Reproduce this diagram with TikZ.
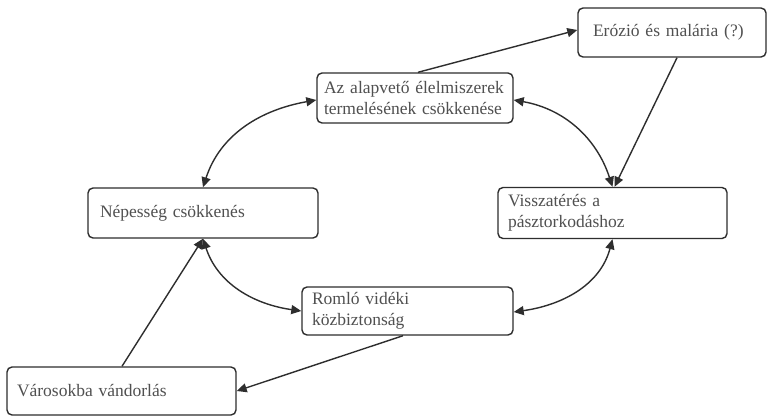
\documentclass[tikz,border=0pt]{standalone}
\usepackage{fontspec}
\setmainfont{Liberation Serif}
\usetikzlibrary{arrows.meta}
\hyphenpenalty=10000
\exhyphenpenalty=10000
\definecolor{edge}{HTML}{2E2E2E}
\definecolor{txt}{HTML}{505050}
\tikzset{
  box/.style={draw=edge, line width=1.4pt, rounded corners=5pt, fill=white,
    inner xsep=10pt, inner ysep=0pt, align=left, text=txt,
    font=\fontsize{17.5pt}{21pt}\selectfont},
  conn/.style={draw=edge, line width=1.4pt},
}
\begin{document}
\begin{tikzpicture}[x=1pt,y=1pt]
\useasboundingbox (0,0) rectangle (768,-417);
\fill[white] (0,0) rectangle (768,-417);
% boxes
\node[box, minimum width=196pt, minimum height=50pt, text width=182pt, inner xsep=7pt] (A) at (415,-98) {Az alapvető élelmiszerek\\termelésének csökkenése};
\node[box, minimum width=188pt, minimum height=49pt, text width=158pt, inner xsep=15pt] (E) at (672,-32.5) {Erózió és malária (?)};
\node[box, minimum width=230pt, minimum height=50pt, text width=206pt, inner xsep=12pt] (N) at (203,-213) {Népesség csökkenés};
\node[box, minimum width=229pt, minimum height=51pt, text width=209pt] (V) at (612.5,-213) {Visszatérés a\\pásztorkodáshoz};
\node[box, minimum width=211pt, minimum height=48pt, text width=191pt] (R) at (407.5,-311) {Romló vidéki\\közbiztonság};
\node[box, minimum width=229pt, minimum height=48pt, text width=209pt] (W) at (121.5,-391) {Városokba vándorlás};
% straight connectors
\draw[conn, -{Triangle[length=10pt,width=9pt]}] ([xshift=3pt]A.north) -- ([yshift=2.5pt]E.west);
\draw[conn, -{Triangle[length=10pt,width=9pt]}] ([xshift=5pt]E.south) -- ([xshift=2pt]V.north);
\draw[conn, -{Triangle[length=10pt,width=9pt]}] ([xshift=0.5pt]W.north) -- (N.south);
\draw[conn, -{Triangle[length=10pt,width=9pt]}] ([xshift=-4.5pt]R.south) -- (W.east);
% curved double connectors
\draw[conn, {Triangle[length=10pt,width=9pt]}-{Triangle[length=10pt,width=9pt]}] (N.north) to[out=72, in=190] ([yshift=-2pt]A.west);
\draw[conn, {Triangle[length=10pt,width=9pt]}-{Triangle[length=10pt,width=9pt]}] ([yshift=-2pt]A.east) to[out=-10, in=108] (V.north);
\draw[conn, {Triangle[length=10pt,width=9pt]}-{Triangle[length=10pt,width=9pt]}] (N.south) to[out=-72, in=172] (R.west);
\draw[conn, {Triangle[length=10pt,width=9pt]}-{Triangle[length=10pt,width=9pt]}] ([yshift=-1pt]R.east) to[out=8, in=-105] (V.south);
\end{tikzpicture}
\end{document}
